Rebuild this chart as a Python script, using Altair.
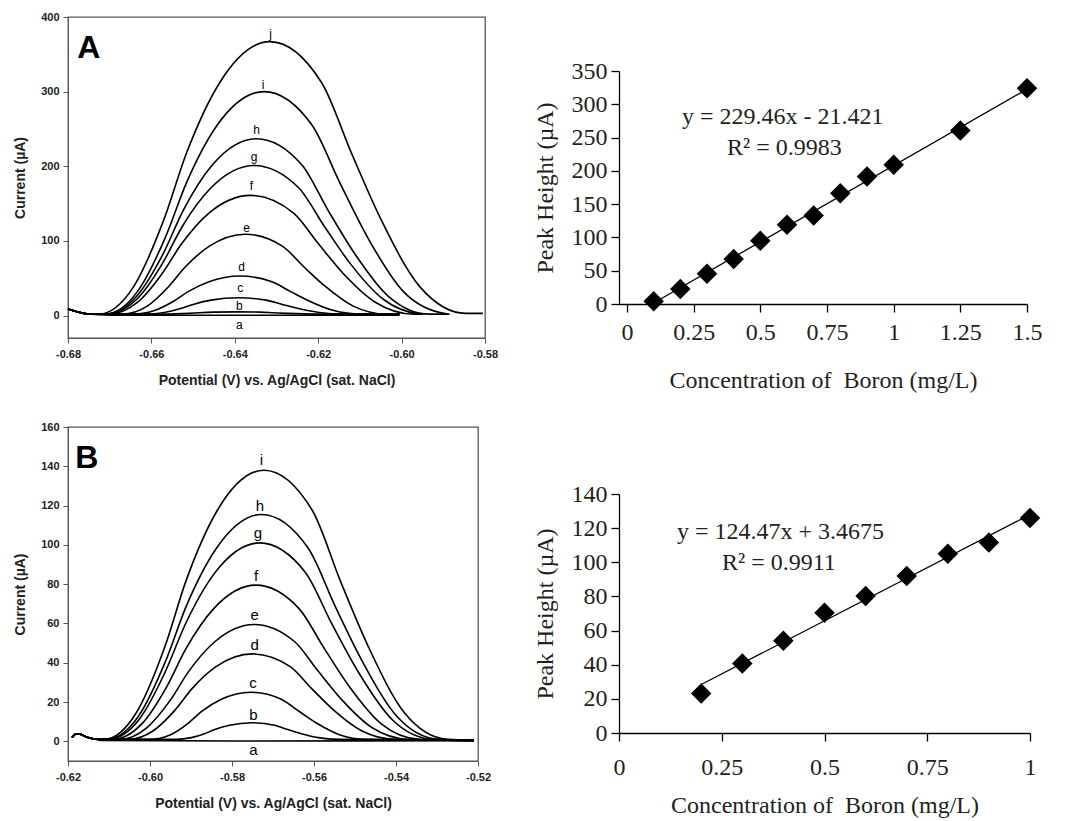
import altair as alt
import pandas as pd

SANS = "Liberation Sans"
SERIF = "Liberation Serif"

# ---------------- Panel A voltammograms (potential V, current uA) ----------------
A_a_x = [-0.680, -0.678, -0.6755, -0.670, -0.640, -0.6005]
A_a_y = [9, 5.5, 2.5, 0.5, 0.5, 0.5]
A_b_x = [-0.680, -0.678, -0.6755, -0.6580, -0.6542, -0.6510, -0.6485, -0.6449, -0.6395, -0.6339, -0.6307, -0.6274, -0.6233, -0.6183, -0.6005]
A_b_y = [9, 5.5, 2.5, 2, 2.3, 3, 3.8, 4.6, 5, 4.6, 3.8, 3, 2.3, 2, 2]
A_c_x = [-0.680, -0.678, -0.6755, -0.6613, -0.6569, -0.6530, -0.6500, -0.6457, -0.6392, -0.6325, -0.6286, -0.6247, -0.6198, -0.6138, -0.6005]
A_c_y = [9, 5.5, 2.5, 2, 4.2, 9.5, 15, 20.7, 24, 20.7, 15, 9.5, 4.2, 2, 2]
A_d_x = [-0.680, -0.678, -0.6755, -0.6642, -0.6591, -0.6546, -0.6512, -0.6462, -0.6388, -0.6311, -0.6266, -0.6222, -0.6165, -0.6097, -0.6005]
A_d_y = [9, 5.5, 2.5, 2, 7.1, 19.5, 32.1, 45.4, 53, 45.4, 32.1, 19.5, 7.1, 2, 2]
A_e_x = [-0.680, -0.678, -0.6755, -0.6670, -0.6610, -0.6559, -0.6519, -0.6461, -0.6375, -0.6286, -0.6234, -0.6182, -0.6116, -0.6037, -0.6005]
A_e_y = [9, 5.5, 2.5, 2, 12.7, 38.7, 65.1, 93, 109, 93, 65.1, 38.7, 12.7, 2, 2]
A_f_x = [-0.680, -0.678, -0.6755, -0.6702, -0.6633, -0.6574, -0.6528, -0.6462, -0.6362, -0.6259, -0.6199, -0.6140, -0.6063, -0.5972, -0.5950]
A_f_y = [9, 5.5, 2.5, 2, 17.9, 56.5, 95.8, 137.2, 161, 137.2, 95.8, 56.5, 17.9, 2, 2]
A_g_x = [-0.680, -0.678, -0.6755, -0.6707, -0.6635, -0.6573, -0.6526, -0.6457, -0.6354, -0.6247, -0.6185, -0.6124, -0.6044, -0.5960, -0.5950]
A_g_y = [9, 5.5, 2.5, 2, 21.9, 70.3, 119.4, 171.2, 201, 171.2, 119.4, 70.3, 21.9, 2.5, 2]
A_h_x = [-0.680, -0.678, -0.6755, -0.6709, -0.6636, -0.6572, -0.6524, -0.6454, -0.6348, -0.6239, -0.6176, -0.6112, -0.6031, -0.5934, -0.5890]
A_h_y = [9, 5.5, 2.5, 2, 25.5, 82.6, 140.7, 201.8, 237, 201.8, 140.7, 82.6, 25.5, 2, 2]
A_i_x = [-0.680, -0.678, -0.6755, -0.6711, -0.6634, -0.6567, -0.6516, -0.6442, -0.6330, -0.6215, -0.6148, -0.6081, -0.5995, -0.5893, -0.5885]
A_i_y = [9, 5.5, 2.5, 2, 31.8, 104.2, 177.8, 255.3, 300, 255.3, 177.8, 104.2, 31.8, 2.5, 2]
A_j_x = [-0.680, -0.678, -0.6755, -0.6726, -0.6643, -0.6571, -0.6516, -0.6436, -0.6316, -0.6192, -0.6120, -0.6048, -0.5956, -0.5846, -0.5805]
A_j_y = [9, 5.5, 2.5, 2, 38.5, 127.2, 217.4, 312.3, 367, 312.3, 217.4, 127.2, 38.5, 3, 3]

A_lab_t = ["a", "b", "c", "d", "e", "f", "g", "h", "i", "j"]
A_lab_x = [-0.6389, -0.6389, -0.6387, -0.6384, -0.6372, -0.6360, -0.6354, -0.6348, -0.6332, -0.6314]
A_lab_y = [-12, 12.5, 37, 65, 117, 173, 212, 249, 309, 377]

# ---------------- Panel B voltammograms ----------------
B_a_x = [-0.6190, -0.6180, -0.6170, -0.6155, -0.6135, -0.6120, -0.5800, -0.5210]
B_a_y = [2, 3.8, 3.6, 2.2, 1.2, 0.5, 0.2, 0.3]
B_b_x = [-0.6190, -0.6180, -0.6170, -0.6155, -0.6135, -0.6120, -0.5937, -0.5899, -0.5867, -0.5842, -0.5806, -0.5752, -0.5696, -0.5664, -0.5631, -0.5590, -0.5540, -0.5210]
B_b_y = [2, 3.8, 3.6, 2.2, 1.2, 1, 1, 1.9, 3.9, 6, 8.2, 9.5, 8.2, 6, 3.9, 1.9, 1, 0.5]
B_c_x = [-0.6190, -0.6180, -0.6170, -0.6155, -0.6135, -0.6120, -0.6000, -0.5950, -0.5907, -0.5874, -0.5826, -0.5754, -0.5680, -0.5636, -0.5593, -0.5538, -0.5472, -0.5210]
B_c_y = [2, 3.8, 3.6, 2.2, 1.2, 1, 1, 3.4, 9.2, 15.2, 21.4, 25, 21.4, 15.2, 9.2, 3.4, 1, 0.5]
B_d_x = [-0.6190, -0.6180, -0.6170, -0.6155, -0.6135, -0.6120, -0.6053, -0.5992, -0.5939, -0.5898, -0.5839, -0.5750, -0.5658, -0.5605, -0.5552, -0.5484, -0.5402, -0.5210]
B_d_y = [2, 3.8, 3.6, 2.2, 1.2, 1, 1, 5.4, 15.9, 26.7, 38, 44.5, 38, 26.7, 15.9, 5.4, 1, 0.5]
B_e_x = [-0.6190, -0.6180, -0.6170, -0.6155, -0.6135, -0.6120, -0.6074, -0.6008, -0.5950, -0.5906, -0.5842, -0.5746, -0.5647, -0.5589, -0.5532, -0.5458, -0.5370, -0.5210]
B_e_y = [2, 3.8, 3.6, 2.2, 1.2, 1, 1, 6.9, 21.1, 35.5, 50.7, 59.5, 50.7, 35.5, 21.1, 6.9, 1, 0.5]
B_f_x = [-0.6190, -0.6180, -0.6170, -0.6155, -0.6135, -0.6120, -0.6091, -0.6020, -0.5959, -0.5912, -0.5844, -0.5742, -0.5637, -0.5575, -0.5514, -0.5436, -0.5342, -0.5210]
B_f_y = [2, 3.8, 3.6, 2.2, 1.2, 1, 1, 8.9, 27.9, 47.3, 67.7, 79.5, 67.7, 47.3, 27.9, 8.9, 1, 0.5]
B_g_x = [-0.6190, -0.6180, -0.6170, -0.6155, -0.6135, -0.6120, -0.6102, -0.6027, -0.5963, -0.5913, -0.5841, -0.5733, -0.5621, -0.5557, -0.5492, -0.5409, -0.5310, -0.5210]
B_g_y = [2, 3.8, 3.6, 2.2, 1.2, 1, 1, 11, 35.3, 60, 86, 101, 86, 60, 35.3, 11, 1, 0.5]
B_h_x = [-0.6190, -0.6180, -0.6170, -0.6155, -0.6135, -0.6120, -0.6105, -0.6029, -0.5963, -0.5912, -0.5838, -0.5728, -0.5614, -0.5548, -0.5481, -0.5397, -0.5296, -0.5210]
B_h_y = [2, 3.8, 3.6, 2.2, 1.2, 1, 1, 12.5, 40.3, 68.6, 98.3, 115.5, 98.3, 68.6, 40.3, 12.5, 1, 0.5]
B_i_x = [-0.6190, -0.6180, -0.6170, -0.6155, -0.6135, -0.6120, -0.6112, -0.6033, -0.5964, -0.5912, -0.5836, -0.5722, -0.5604, -0.5536, -0.5467, -0.5380, -0.5275, -0.5210]
B_i_y = [2, 3.8, 3.6, 2.2, 1.2, 1, 1, 14.7, 48, 81.8, 117.5, 138, 117.5, 81.8, 48, 14.7, 1, 0.5]

B_lab_t = ["a", "b", "c", "d", "e", "f", "g", "h", "i"]
B_lab_x = [-0.5748, -0.5748, -0.5749, -0.5745, -0.5745, -0.5741, -0.5737, -0.5732, -0.5728]
B_lab_y = [-4.2, 13.6, 29.7, 49.2, 64.5, 84, 106, 119.6, 143.4]

# ---------------- Calibration plots ----------------
CA_conc = [0.1, 0.2, 0.3, 0.4, 0.5, 0.6, 0.7, 0.8, 0.9, 1.0, 1.25, 1.5]
CA_peak = [4, 22.5, 45.5, 67.5, 95, 119, 133, 166.5, 191.5, 209, 260.5, 324]
CA_fit_x = [0.1, 1.5]
CA_fit_y = [1.5, 322.8]
CA_eq = ["y = 229.46x - 21.421", "R² = 0.9983"]
CA_eq_x = [0.584, 0.59]
CA_eq_y = [281, 234]

CB_conc = [0.2, 0.3, 0.4, 0.5, 0.6, 0.7, 0.8, 0.9, 1.0]
CB_peak = [23.1, 40.7, 54, 70.5, 80.3, 92, 105, 111.6, 126]
CB_fit_x = [0.2, 1.0]
CB_fit_y = [28.4, 127.9]
CB_eq = ["y = 124.47x + 3.4675", "R² = 0.9911"]
CB_eq_x = [0.393, 0.389]
CB_eq_y = [118, 99.5]

A_curves = {"a": (A_a_x, A_a_y), "b": (A_b_x, A_b_y), "c": (A_c_x, A_c_y), "d": (A_d_x, A_d_y),
            "e": (A_e_x, A_e_y), "f": (A_f_x, A_f_y), "g": (A_g_x, A_g_y), "h": (A_h_x, A_h_y),
            "i": (A_i_x, A_i_y), "j": (A_j_x, A_j_y)}
B_curves = {"a": (B_a_x, B_a_y), "b": (B_b_x, B_b_y), "c": (B_c_x, B_c_y), "d": (B_d_x, B_d_y),
            "e": (B_e_x, B_e_y), "f": (B_f_x, B_f_y), "g": (B_g_x, B_g_y), "h": (B_h_x, B_h_y),
            "i": (B_i_x, B_i_y)}

MINUS_FIX = "replace(format(datum.value, '.2f'), '\u2212', '-')"


def volt_panel(curves, lab_x, lab_y, lab_t, xdom, ydom, xvals, yvals, w, h,
               letter, letter_x, letter_y, lab_size):
    rows = [{"x": x, "y": y, "c": k} for k, (xs, ys) in curves.items() for x, y in zip(xs, ys)]
    df = pd.DataFrame(rows)
    xs = alt.Scale(domain=xdom, nice=False, zero=False)
    ys = alt.Scale(domain=ydom, nice=False, zero=False)
    xaxis = alt.Axis(values=xvals, labelExpr=MINUS_FIX, grid=False,
                     labelFont=SANS, labelFontWeight="bold", labelFontSize=11, labelColor="#222",
                     titleFont=SANS, titleFontWeight="bold", titleFontSize=14, titleColor="#222",
                     tickSize=5, tickColor="#555", domainColor="#555", labelPadding=5,
                     titlePadding=14, labelFlush=False)
    yaxis = alt.Axis(values=yvals, grid=False,
                     labelFont=SANS, labelFontWeight="bold", labelFontSize=11, labelColor="#222",
                     titleFont=SANS, titleFontWeight="bold", titleFontSize=14, titleColor="#222",
                     tickSize=5, tickColor="#555", domainColor="#555", labelPadding=4,
                     titlePadding=13, labelFlush=False)
    X = alt.X("x:Q", scale=xs, axis=xaxis, title="Potential (V) vs. Ag/AgCl (sat. NaCl)")
    Y = alt.Y("y:Q", scale=ys, axis=yaxis, title="Current (µA)")
    lines = alt.Chart(df).mark_line(color="black", strokeWidth=1.6, interpolate="monotone").encode(
        x=X, y=Y, detail="c:N",
    )
    ldf = pd.DataFrame({"x": lab_x, "y": lab_y, "t": lab_t})
    labels = alt.Chart(ldf).mark_text(font=SANS, fontSize=lab_size, color="black", baseline="middle").encode(
        x=X, y=Y, text="t:N",
    )
    pdf = pd.DataFrame({"x": [letter_x], "y": [letter_y], "t": [letter]})
    panel = alt.Chart(pdf).mark_text(font=SANS, fontWeight="bold", fontSize=32, color="black",
                                     baseline="middle").encode(
        x=X, y=Y, text="t:N",
    )
    return alt.layer(lines, labels, panel).properties(
        width=w, height=h, view=alt.ViewBackground(stroke="#555", strokeWidth=1.3, fill="white"))


def calib_panel(cx, cy, fx, fy, eq, eqx, eqy, xdom, ydom, xvals, yvals, w, h, lpad, tpad):
    xs = alt.Scale(domain=xdom, nice=False, zero=False)
    ys = alt.Scale(domain=ydom, nice=False, zero=False)
    xaxis = alt.Axis(values=xvals, format=".3~g", grid=False,
                     labelFont=SERIF, labelFontSize=24, labelColor="#231f20",
                     titleFont=SERIF, titleFontSize=24, titleFontWeight="normal", titleColor="#231f20",
                     tickSize=8, tickColor="black", domainColor="black", domainWidth=1.3, tickWidth=1.3,
                     labelPadding=lpad, titlePadding=tpad, labelFlush=False)
    yaxis = alt.Axis(values=yvals, grid=False,
                     labelFont=SERIF, labelFontSize=24, labelColor="#231f20",
                     titleFont=SERIF, titleFontSize=24, titleFontWeight="normal", titleColor="#231f20",
                     tickSize=8, tickColor="black", domainColor="black", domainWidth=1.3, tickWidth=1.3,
                     labelPadding=4, titlePadding=14, labelFlush=False)
    X = alt.X("x:Q", scale=xs, axis=xaxis, title="Concentration of\u00a0 Boron (mg/L)")
    Y = alt.Y("y:Q", scale=ys, axis=yaxis, title="Peak Height (µA)")
    fit = alt.Chart(pd.DataFrame({"x": fx, "y": fy})).mark_line(color="black", strokeWidth=1.3).encode(
        x=X, y=Y,
    )
    pts = alt.Chart(pd.DataFrame({"x": cx, "y": cy})).mark_point(
        shape="diamond", filled=True, size=420, color="black", opacity=1).encode(
        x=X, y=Y,
    )
    txt = alt.Chart(pd.DataFrame({"x": eqx, "y": eqy, "t": eq})).mark_text(
        font=SERIF, fontSize=24, color="#231f20", baseline="middle").encode(
        x=X, y=Y, text="t:N",
    )
    return alt.layer(fit, pts, txt).properties(
        width=w, height=h, view=alt.ViewBackground(stroke="transparent"))


panelA = volt_panel(A_curves, A_lab_x, A_lab_y, A_lab_t, [-0.68, -0.58], [-30, 400],
                    [-0.68, -0.66, -0.64, -0.62, -0.60, -0.58], [0, 100, 200, 300, 400],
                    417, 321, "A", -0.675, 358, 12)
panelB = volt_panel(B_curves, B_lab_x, B_lab_y, B_lab_t, [-0.62, -0.52], [-10, 160],
                    [-0.62, -0.60, -0.58, -0.56, -0.54, -0.52], [0, 20, 40, 60, 80, 100, 120, 140, 160],
                    410, 334, "B", -0.6154, 144, 15)

calA = calib_panel(CA_conc, CA_peak, CA_fit_x, CA_fit_y, CA_eq, CA_eq_x, CA_eq_y,
                   [-0.03, 1.5], [0, 350], [0, 0.25, 0.5, 0.75, 1, 1.25, 1.5],
                   [0, 50, 100, 150, 200, 250, 300, 350], 408, 233, 8, 24)
calB = calib_panel(CB_conc, CB_peak, CB_fit_x, CB_fit_y, CB_eq, CB_eq_x, CB_eq_y,
                   [0, 1], [0, 140], [0, 0.25, 0.5, 0.75, 1],
                   [0, 20, 40, 60, 80, 100, 120, 140], 411, 239, 14, 14)

spacer = alt.Chart(pd.DataFrame({"v": [0]})).mark_rule(opacity=0).encode(
    x=alt.value(0), y=alt.value(0), y2=alt.value(40)
).properties(width=10, height=40, view=alt.ViewBackground(stroke="transparent"))

left = alt.vconcat(panelA, panelB, spacing=32)
right = alt.vconcat(spacer, alt.vconcat(calA, calB, spacing=88), spacing=0)

chart = alt.hconcat(left, right, spacing=33).properties(
    padding={"left": 12, "top": 10, "right": 0, "bottom": 0},
    background="white",
)

chart.save("out.html", embed_options={"renderer": "svg", "actions": False})
